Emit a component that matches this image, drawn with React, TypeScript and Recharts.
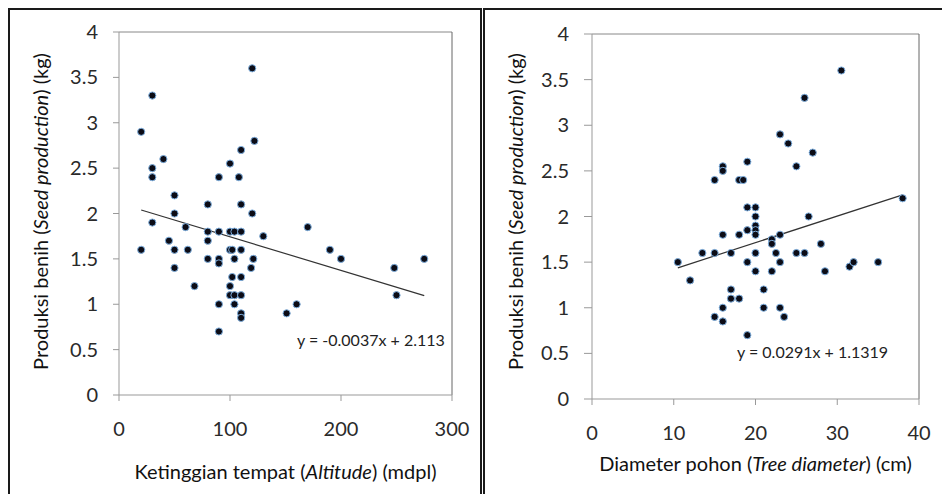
import { ScatterChart, Scatter, XAxis, YAxis, ReferenceLine } from 'recharts'

const FONT = 'Lato, "Open Sans", sans-serif'

// ketinggian tempat (mdpl) vs produksi benih (kg)
const altitude = [
  20, 30, 40, 30, 30, 50, 50, 30, 20, 45, 60, 50, 50, 62, 68,
  80, 80, 80, 80, 90, 90, 90, 90, 90, 90,
  100, 100, 100, 102, 102, 100, 100, 104, 104, 104, 104,
  110, 108, 110, 110, 110, 110, 110, 110, 110,
  120, 122, 120, 121, 119, 130, 151, 160, 170, 190, 200, 248, 250, 275
]
const seedByAltitude = [
  2.9, 3.3, 2.6, 2.5, 2.4, 2.2, 2.0, 1.9, 1.6, 1.7, 1.85, 1.6, 1.4, 1.6, 1.2,
  2.1, 1.8, 1.7, 1.5, 2.4, 1.8, 1.5, 1.45, 1.0, 0.7,
  2.55, 1.8, 1.6, 1.6, 1.3, 1.2, 1.1, 1.8, 1.5, 1.1, 1.0,
  2.7, 2.4, 2.1, 1.8, 1.6, 1.3, 1.1, 0.9, 0.85,
  3.6, 2.8, 2.0, 1.5, 1.4, 1.75, 0.9, 1.0, 1.85, 1.6, 1.5, 1.4, 1.1, 1.5
]

// diameter pohon (cm) vs produksi benih (kg)
const diameter = [
  10.5, 12, 13.5, 15, 15, 15, 16, 16, 16, 16, 16, 17, 17, 17,
  18, 18.5, 18, 18, 19, 19, 19, 19, 19,
  20, 20, 20, 20, 20, 20, 20, 21, 21, 22, 22, 22, 22.5,
  23, 23, 23, 23, 23.5, 24, 25, 25, 26, 26, 26.5, 27, 28, 28.5,
  30.5, 31.5, 32, 35, 38
]
const seedByDiameter = [
  1.5, 1.3, 1.6, 1.6, 2.4, 0.9, 2.55, 2.5, 1.8, 1.0, 0.85, 1.6, 1.2, 1.1,
  2.4, 2.4, 1.8, 1.1, 2.6, 2.1, 1.85, 1.5, 0.7,
  2.1, 2.0, 1.9, 1.85, 1.8, 1.6, 1.4, 1.2, 1.0, 1.75, 1.7, 1.4, 1.6,
  2.9, 1.8, 1.5, 1.0, 0.9, 2.8, 2.55, 1.6, 3.3, 1.6, 2.0, 2.7, 1.7, 1.4,
  3.6, 1.45, 1.5, 1.5, 2.2
]

const yTicks = [0, 0.5, 1, 1.5, 2, 2.5, 3, 3.5, 4]
const altitudeTicks = [0, 100, 200, 300]
const diameterTicks = [0, 10, 20, 30, 40]

const altitudeTrend = { slope: -0.0037, intercept: 2.113, from: 20, to: 275 }
const diameterTrend = { slope: 0.0291, intercept: 1.1319, from: 10.5, to: 38 }

const altitudeData = altitude.map((x, i) => ({ x, y: seedByAltitude[i] }))
const diameterData = diameter.map((x, i) => ({ x, y: seedByDiameter[i] }))

const trendSegment = (t: { slope: number, intercept: number, from: number, to: number }) => [
  { x: t.from, y: t.slope * t.from + t.intercept },
  { x: t.to, y: t.slope * t.to + t.intercept }
]

const tickStyle = { fill: '#2a2a2a', fontSize: 20, fontFamily: FONT }

function Dot (props: any) {
  const { cx, cy } = props
  if (cx == null || cy == null) return null
  return <circle cx={cx} cy={cy} r={3.6} fill="#0c0c16" stroke="#7fb0e0" strokeWidth={1} />
}

function YTitle ({ viewBox, dx, dy }: any) {
  const { x = 0, y = 0, height = 0 } = viewBox || {}
  const cx = x + dx
  const cy = y + height / 2 + dy
  return (
    <text x={cx} y={cy} transform={`rotate(-90 ${cx} ${cy})`} textAnchor="middle" dominantBaseline="central"
      fontFamily={FONT} fontSize={20} fill="#111">
      Produksi benih (<tspan fontStyle="italic">Seed production</tspan>) (kg)
    </text>
  )
}

function XTitle ({ viewBox, dy, pre, italic, post }: any) {
  const { x = 0, y = 0, width = 0 } = viewBox || {}
  return (
    <text x={x + width / 2} y={y + dy} textAnchor="middle" dominantBaseline="central"
      fontFamily={FONT} fontSize={20} fill="#111">
      {pre}<tspan fontStyle="italic">{italic}</tspan>{post}
    </text>
  )
}

const eqStyle = {
  position: 'absolute' as const,
  fontFamily: FONT,
  fontSize: 16,
  lineHeight: '18px',
  color: '#222',
  whiteSpace: 'nowrap' as const
}

export default function App () {
  return (
    <div style={{ position: 'relative', width: 942, height: 494, overflow: 'hidden', background: '#fff' }}>
      <style>{'body{margin:0}'}</style>

      {/* panel frames */}
      <div style={{ position: 'absolute', left: 8, top: 8, width: 474, height: 500, boxSizing: 'border-box', border: '2px solid #1a1a1a' }} />
      <div style={{ position: 'absolute', left: 483, top: 8, width: 480, height: 500, boxSizing: 'border-box', border: '2px solid #1a1a1a' }} />

      <div style={{ position: 'absolute', left: 8, top: 8 }}>
        <ScatterChart width={470} height={486} margin={{ top: 24, right: 26, left: 0, bottom: 0 }}>
          <XAxis
            type="number"
            dataKey="x"
            domain={[0, 300]}
            ticks={altitudeTicks}
            interval={0}
            height={99}
            tick={tickStyle}
            tickSize={6}
            tickMargin={21}
            stroke="#999"
            label={{ content: (p: any) => <XTitle viewBox={p.viewBox} dy={76} pre="Ketinggian tempat (" italic="Altitude" post=") (mdpl)" /> }}
          />
          <YAxis
            type="number"
            dataKey="y"
            domain={[0, 4]}
            ticks={yTicks}
            interval={0}
            width={111}
            tick={tickStyle}
            tickSize={6}
            tickMargin={15}
            stroke="#999"
            label={{ content: (p: any) => <YTitle viewBox={p.viewBox} dx={32} dy={-2} /> }}
          />
          <ReferenceLine y={4} stroke="#888" />
          <ReferenceLine x={300} stroke="#666" />
          <ReferenceLine segment={trendSegment(altitudeTrend)} stroke="#333" strokeWidth={1.2} />
          <Scatter data={altitudeData} shape={Dot} isAnimationActive={false} />
        </ScatterChart>
      </div>
      <div style={{ ...eqStyle, left: 297, top: 331 }}>y = -0.0037x + 2.113</div>

      <div style={{ position: 'absolute', left: 483, top: 8 }}>
        <ScatterChart width={459} height={486} margin={{ top: 26, right: 23, left: 0, bottom: 0 }}>
          <XAxis
            type="number"
            dataKey="x"
            domain={[0, 40]}
            ticks={diameterTicks}
            interval={0}
            height={95}
            tick={tickStyle}
            tickSize={6}
            tickMargin={21}
            stroke="#999"
            label={{ content: (p: any) => <XTitle viewBox={p.viewBox} dy={64} pre="Diameter pohon (" italic="Tree diameter" post=") (cm)" /> }}
          />
          <YAxis
            type="number"
            dataKey="y"
            domain={[0, 4]}
            ticks={yTicks}
            interval={0}
            width={109}
            tick={tickStyle}
            tickSize={8}
            tickMargin={15}
            stroke="#999"
            label={{ content: (p: any) => <YTitle viewBox={p.viewBox} dx={32} dy={-5} /> }}
          />
          <ReferenceLine y={4} stroke="#888" />
          <ReferenceLine x={40} stroke="#666" />
          <ReferenceLine segment={trendSegment(diameterTrend)} stroke="#333" strokeWidth={1.2} />
          <Scatter data={diameterData} shape={Dot} isAnimationActive={false} />
        </ScatterChart>
      </div>
      <div style={{ ...eqStyle, left: 737, top: 343 }}>y = 0.0291x + 1.1319</div>
    </div>
  )
}
